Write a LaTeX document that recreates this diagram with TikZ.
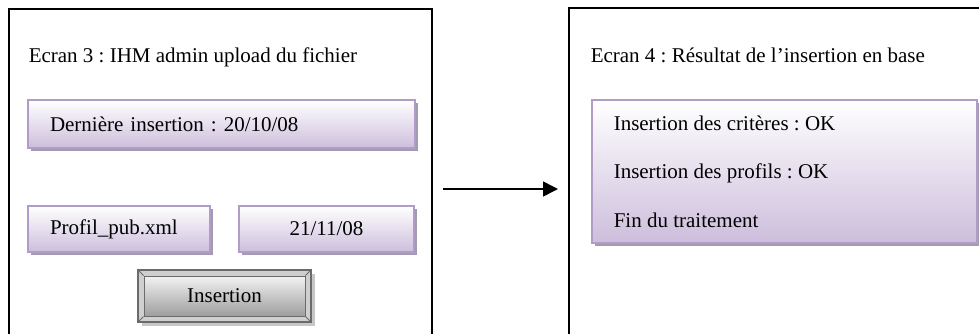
\documentclass[tikz,border=0pt]{standalone}
\usepackage{fontspec}
\setmainfont{Liberation Serif}
\usepackage{tikz}
\usetikzlibrary{shadows, arrows.meta}
\frenchspacing

\definecolor{lilac}{HTML}{CDBEDC}
\definecolor{lilacline}{HTML}{B09CC6}
\definecolor{lilacshadow}{HTML}{A59BB0}
\definecolor{btnline}{HTML}{6B6B6B}
\definecolor{btnbevel}{HTML}{CFCFCF}
\definecolor{btnface}{HTML}{9E9E9E}

\begin{document}
\begin{tikzpicture}[x=1pt, y=-1pt, line width=1.5pt,
  txt/.style={inner sep=0pt, anchor=base west, font=\fontsize{21}{25}\selectfont},
  field/.style={draw=lilacline, top color=white, bottom color=lilac, inner ysep=0pt,
    drop shadow={shadow xshift=3pt, shadow yshift=-3pt, fill=lilacshadow, opacity=1},
    font=\fontsize{21}{25}\selectfont}]

\useasboundingbox (0,0) rectangle (979,333);
\clip (0,0) rectangle (979,333);

% draw the two screens
\draw[line width=2pt] (9,345) -- (9,9) -- (432,9) -- (432,345);
\draw[line width=2pt] (569,345) -- (569,8) -- (990,8);

% screen 3
\node[txt] (title3) at (28,62) {Ecran 3 : IHM admin upload du fichier};
\node[field, minimum width=387pt, minimum height=48pt, text width=343pt, inner xsep=22pt, align=left]
  (last) at (221.5,124) {Dernière insertion : 20/10/08};
\node[field, minimum width=182pt, minimum height=46pt, text width=138pt, inner xsep=22pt, align=left]
  (file) at (119,229) {Profil\_pub.xml};
\node[field, minimum width=175pt, minimum height=46pt]
  (date) at (326.5,229) {21/11/08};

% draw the button
\fill[black!22] (142,274) rectangle (315,326);
\filldraw[draw=btnline, fill=btnbevel] (138,270) rectangle (311,322);
\node[draw=btnline, top color=white!95!black, bottom color=btnface, line width=1pt,
  minimum width=161pt, minimum height=40pt, font=\fontsize{21}{25}\selectfont]
  (btn) at (224.5,296) {Insertion};
\draw[btnline, line width=1pt] (138,270) -- (btn.north west)
                                (311,270) -- (btn.north east)
                                (138,322) -- (btn.south west)
                                (311,322) -- (btn.south east);

% draw arrow
\coordinate (from) at (443,189);
\coordinate (to) at (558,189);
\draw[-{Triangle[length=15pt, width=15pt]}] (from) -- (to);

% screen 4
\node[txt] (title4) at (590,62) {Ecran 4 : Résultat de l’insertion en base};
\node[field, minimum width=385pt, minimum height=143pt] (result) at (784.5,171.5) {};
\node[txt] (crit) at (613,130) {Insertion des critères : OK};
\node[txt] (prof) at (613,178) {Insertion des profils : OK};
\node[txt] (done) at (613,227) {Fin du traitement};

\end{tikzpicture}
\end{document}
